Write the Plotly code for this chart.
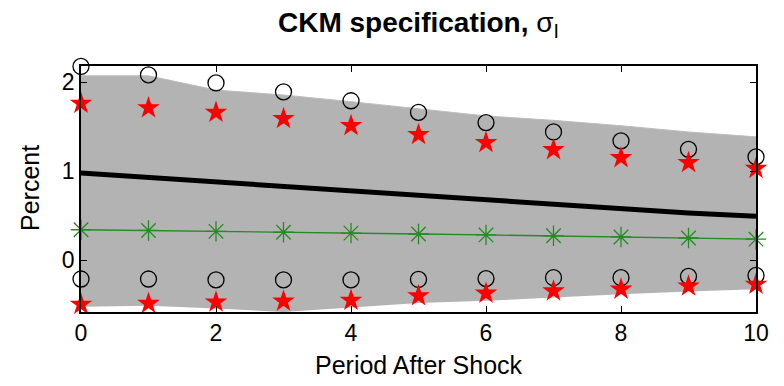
import plotly.graph_objects as go

periods = [0, 1, 2, 3, 4, 5, 6, 7, 8, 9, 10]
band_upper = [2.07, 2.07, 1.91, 1.855, 1.78, 1.70, 1.62, 1.57, 1.51, 1.44, 1.385]
band_lower = [-0.52, -0.51, -0.54, -0.58, -0.53, -0.48, -0.455, -0.415, -0.38, -0.35, -0.325]
median_line = [0.98, 0.93, 0.88, 0.83, 0.78, 0.725, 0.67, 0.62, 0.57, 0.53, 0.495]
green_line = [0.343, 0.335, 0.325, 0.315, 0.305, 0.295, 0.285, 0.275, 0.262, 0.25, 0.237]
circles_top = [2.175, 2.08, 1.99, 1.89, 1.79, 1.66, 1.545, 1.44, 1.34, 1.245, 1.16]
circles_bot = [-0.21, -0.21, -0.22, -0.22, -0.22, -0.215, -0.205, -0.195, -0.195, -0.18, -0.17]
stars_top = [1.76, 1.71, 1.66, 1.59, 1.51, 1.41, 1.32, 1.24, 1.15, 1.095, 1.03]
stars_bot = [-0.495, -0.485, -0.47, -0.46, -0.45, -0.40, -0.37, -0.345, -0.325, -0.29, -0.27]

FONT = "Liberation Sans, Arial, sans-serif"

fig = go.Figure()

fig.add_trace(go.Scatter(x=periods, y=band_lower, mode="lines",
                         line=dict(color="#b3b3b3", width=0), showlegend=False))
fig.add_trace(go.Scatter(x=periods, y=band_upper, mode="lines", fill="tonexty",
                         fillcolor="#b3b3b3", line=dict(color="#bdbdbd", width=1),
                         showlegend=False))
fig.add_trace(go.Scatter(x=periods, y=median_line, mode="lines",
                         line=dict(color="black", width=5), showlegend=False))
fig.add_trace(go.Scatter(x=periods, y=green_line, mode="lines+markers",
                         line=dict(color="#228b22", width=1.3),
                         marker=dict(symbol="asterisk-open", size=17, color="#228b22",
                                     line=dict(color="#228b22", width=1.3)),
                         cliponaxis=False, showlegend=False))
for ys in (circles_top, circles_bot):
    fig.add_trace(go.Scatter(x=periods, y=ys, mode="markers",
                             marker=dict(symbol="circle-open", size=16, color="black",
                                         line=dict(color="black", width=1.3)),
                             cliponaxis=False, showlegend=False))
for ys in (stars_top, stars_bot):
    fig.add_trace(go.Scatter(x=periods, y=ys, mode="markers",
                             marker=dict(symbol="star", size=17, color="red",
                                         line=dict(color="red", width=0)),
                             cliponaxis=False, showlegend=False))

axis_common = dict(showgrid=False, zeroline=False, showline=True, linecolor="black",
                   linewidth=1.5, mirror="ticks", ticks="inside", ticklen=6,
                   tickcolor="black", tickwidth=1,
                   tickfont=dict(family=FONT, size=23, color="black"))

# the page body has an 8px margin, so the figure is 8px smaller in each direction
W, H = 776, 378
fig.update_layout(
    width=W, height=H,
    margin=dict(l=73, r=28, t=58, b=74),
    paper_bgcolor="white", plot_bgcolor="white",
    title=dict(text="<b>CKM specification, </b>σ<sub>I</sub>",
               x=0.5, xref="paper", y=1 - 14 / H, yref="container",
               xanchor="center", yanchor="middle",
               font=dict(family=FONT, size=28, color="black")),
    xaxis=dict(range=[0, 10], tickvals=[0, 2, 4, 6, 8, 10], **axis_common),
    yaxis=dict(range=[-0.58, 2.18], tickvals=[0, 1, 2], **axis_common),
    annotations=[
        dict(text="Period After Shock", xref="paper", yref="paper", x=0.5,
             y=-(365 - 312) / 246, xanchor="center", yanchor="middle", showarrow=False,
             font=dict(family=FONT, size=25, color="black")),
        dict(text="Percent", xref="paper", yref="paper", x=(30 - 81) / 675,
             y=(312 - 188) / 246, xanchor="center", yanchor="middle", textangle=-90,
             showarrow=False,
             font=dict(family=FONT, size=25, color="black")),
    ],
)

fig.write_html("out.html")
